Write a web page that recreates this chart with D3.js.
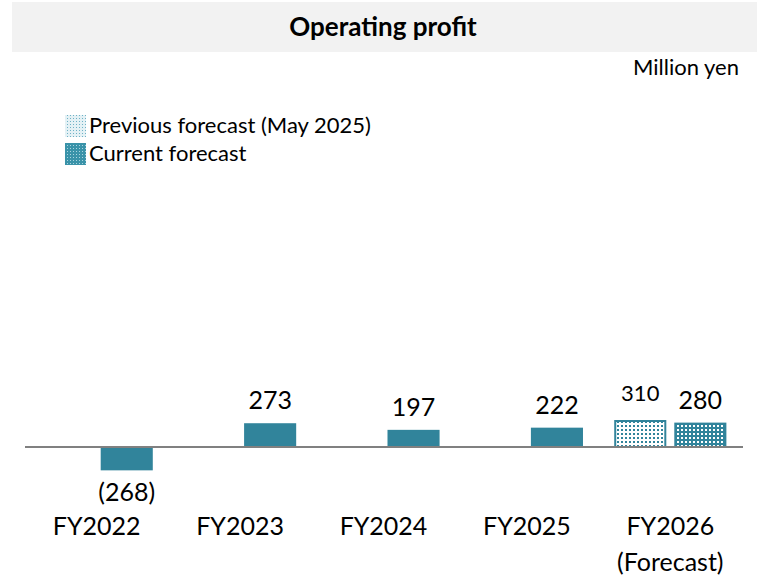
<!DOCTYPE html>
<html>
<head>
<meta charset="utf-8">
<script src="https://cdn.jsdelivr.net/npm/d3@7"></script>
<style>
  body { margin: 0; background: #fff; }
  svg { display: block; font-family: Lato, "Open Sans", sans-serif; }
</style>
</head>
<body>
<svg id="chart" width="757" height="577"></svg>
<script>
const categories = ["FY2022", "FY2023", "FY2024", "FY2025", "FY2026"];
const categoryLines = [["FY2022"], ["FY2023"], ["FY2024"], ["FY2025"], ["FY2026", "(Forecast)"]];
const seriesKeys = ["previous", "current"];
const previousForecast = [null, null, null, null, 310];
const currentValues = [-268, 273, 197, 222, 280];
const valueLabels = ["(268)", "273", "197", "222", "280"];
const previousLabels = [null, null, null, null, "310"];
const legendLabels = ["Previous forecast (May 2025)", "Current forecast"];
const titleText = "Operating profit";
const unitText = "Million yen";

const teal = "#31849b";
const svg = d3.select("#chart");

// patterns
const defs = svg.append("defs");
const pPrev = defs.append("pattern").attr("id", "patPrev").attr("patternUnits", "userSpaceOnUse")
  .attr("width", 4).attr("height", 4);
pPrev.append("rect").attr("width", 4).attr("height", 4).attr("fill", "#fff");
pPrev.append("rect").attr("x", 1).attr("y", 1).attr("width", 2).attr("height", 2).attr("fill", teal);
const pCur = defs.append("pattern").attr("id", "patCur").attr("patternUnits", "userSpaceOnUse")
  .attr("width", 4).attr("height", 4);
pCur.append("rect").attr("width", 4).attr("height", 4).attr("fill", teal);
pCur.append("rect").attr("x", 1).attr("y", 1).attr("width", 2).attr("height", 2).attr("fill", "#fff");
const pPrevL = defs.append("pattern").attr("id", "patPrevL").attr("patternUnits", "userSpaceOnUse")
  .attr("width", 3).attr("height", 3);
pPrevL.append("rect").attr("width", 3).attr("height", 3).attr("fill", "#e4f1f5");
pPrevL.append("rect").attr("x", 1).attr("y", 1).attr("width", 1).attr("height", 1).attr("fill", "#6fb2c6");
const pCurL = defs.append("pattern").attr("id", "patCurL").attr("patternUnits", "userSpaceOnUse")
  .attr("width", 3).attr("height", 3);
pCurL.append("rect").attr("width", 3).attr("height", 3).attr("fill", "#3a93a9");
pCurL.append("rect").attr("x", 1).attr("y", 1).attr("width", 1).attr("height", 1).attr("fill", "#a9d4df");

// title band
svg.append("rect").attr("x", 12).attr("y", 2).attr("width", 745).attr("height", 50).attr("fill", "#f2f2f2");
svg.append("text").attr("x", 383).attr("y", 29).attr("text-anchor", "middle").attr("dominant-baseline", "middle")
  .attr("font-weight", "bold").attr("font-size", 26).attr("fill", "#000").text(titleText);
svg.append("text").attr("x", 739).attr("y", 75).attr("text-anchor", "end")
  .attr("font-size", 22).attr("fill", "#000").text(unitText);

// legend
const legend = svg.append("g");
const legFills = ["url(#patPrevL)", "url(#patCurL)"];
const legY = [115, 143];
legendLabels.forEach((t, i) => {
  legend.append("rect").attr("x", 65).attr("y", legY[i]).attr("width", 21).attr("height", 22).attr("fill", legFills[i]);
  legend.append("text").attr("x", 89).attr("y", legY[i] + 18).attr("font-size", 22).attr("fill", "#000").text(t);
});

// scales
const x = d3.scaleBand().domain(categories).range([25, 742]).paddingInner(0).paddingOuter(0);
const xs = d3.scaleBand().domain(seriesKeys).range([0, x.bandwidth()]).paddingInner(0.133).paddingOuter(0.26);
const y = d3.scaleLinear().domain([0, 310]).range([447, 420]);

const data = [];
categories.forEach((c, i) => {
  if (previousForecast[i] != null) data.push({c, key: "previous", v: previousForecast[i], label: previousLabels[i], pattern: true});
  data.push({c, key: "current", v: currentValues[i], label: valueLabels[i], pattern: i === 4});
});

const bars = svg.append("g");
data.forEach(d => {
  const x0 = x(d.c) + xs(d.key);
  const w = xs.bandwidth();
  const top = y(Math.max(0, d.v)), bot = y(Math.min(0, d.v));
  if (d.pattern) {
    bars.append("rect").attr("x", x0 + 1).attr("y", top + 1).attr("width", w - 2).attr("height", bot - top - 1)
      .attr("fill", d.key === "previous" ? "url(#patPrev)" : "url(#patCur)")
      .attr("stroke", teal).attr("stroke-width", 2);
  } else {
    bars.append("rect").attr("x", x0).attr("y", top).attr("width", w).attr("height", bot - top).attr("fill", teal);
  }
  const cx = x0 + w / 2;
  const isPrev = d.key === "previous";
  const ly = d.v < 0 ? bot + 31 : top - (isPrev ? 19 : 14);
  svg.append("text").attr("x", cx).attr("y", ly).attr("text-anchor", "middle")
    .attr("font-size", isPrev ? 22 : 25).attr("fill", "#000").text(d.label);
});

// axis line
svg.append("line").attr("x1", 25).attr("x2", 743).attr("y1", y(0)).attr("y2", y(0))
  .attr("stroke", "#808080").attr("stroke-width", 2);

// category labels
categories.forEach((c, i) => {
  categoryLines[i].forEach((line, j) => {
    svg.append("text").attr("x", x(c) + x.bandwidth() / 2).attr("y", 535 + j * 36)
      .attr("text-anchor", "middle").attr("font-size", 25).attr("fill", "#000").text(line);
  });
});
</script>
</body>
</html>
